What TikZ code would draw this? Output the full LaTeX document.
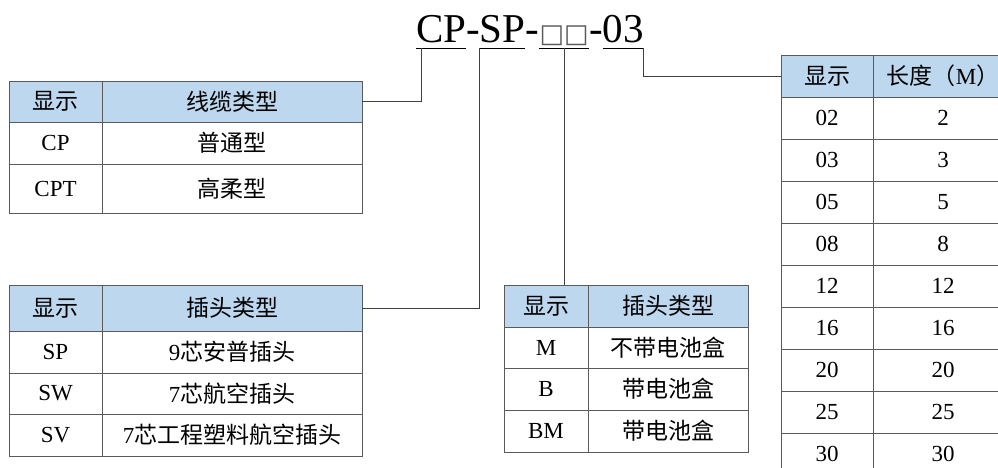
\documentclass[tikz,border=0pt]{standalone}
\usepackage{fontspec}
\setmainfont{Liberation Serif}
\newfontfamily\cjk{Noto Sans CJK SC}
\newfontfamily\boxfont{DejaVu Sans}
\usepackage{tikz}
\usetikzlibrary{positioning}

\definecolor{headblue}{HTML}{BDD7EE}
\definecolor{gridgray}{HTML}{5A5A5A}
\definecolor{linkgray}{HTML}{404040}
\newcommand\tabfont{\fontsize{23}{27}\selectfont}
\newcommand\codefont{\fontsize{41}{45}\selectfont}

\tikzset{
  cell/.style={draw=gridgray, line width=0.9pt, inner sep=0pt, outer sep=0pt, font=\tabfont},
  headcell/.style={cell, fill=headblue},
  codepart/.style={inner xsep=0pt, inner ysep=6pt, text depth=0pt, outer sep=0pt, anchor=base west, font=\codefont},
  link/.style={draw=linkgray, line width=0.9pt},
  uline/.style={draw=black, line width=1pt},
}

\begin{document}
\begin{tikzpicture}[x=1pt,y=1pt]
		\useasboundingbox (0,0) rectangle (998,-467);
		\clip (0,0) rectangle (998,-467);
		% model code
		\node [codepart](cp) at (416,-42) {CP};
		\node [codepart](dash1) at (cp.base east) {-};
		\node [codepart](sp) at (dash1.base east) {SP};
		\node [codepart](dash2) at (sp.base east) {-};
		\node [codepart, minimum width=50, text=gridgray](boxes) at (dash2.base east) {\boxfont\fontsize{26}{30}\selectfont □□};
		\node [codepart](dash3) at (boxes.base east) {-};
		\node [codepart](len) at (dash3.base east) {03};
		\foreach \part in {cp,sp,boxes,len}
			\draw [uline] (\part.south west) -- (\part.south east);
		% cable type
		\node [headcell, minimum width=93, minimum height=41, anchor=north west](t1h1) at (9,-81) {\cjk 显示};
		\node [headcell, minimum width=260, minimum height=41, right=0pt of t1h1](t1h2) {\cjk 线缆类型};
		\node [cell, minimum width=93, minimum height=42, below=0pt of t1h1](t1a1) {CP};
		\node [cell, minimum width=260, minimum height=42, right=0pt of t1a1](t1a2) {\cjk 普通型};
		\node [cell, minimum width=93, minimum height=49, below=0pt of t1a1](t1b1) {CPT};
		\node [cell, minimum width=260, minimum height=49, right=0pt of t1b1](t1b2) {\cjk 高柔型};
		% plug type
		\node [headcell, minimum width=93, minimum height=46, anchor=north west](t2h1) at (9,-285) {\cjk 显示};
		\node [headcell, minimum width=260, minimum height=46, right=0pt of t2h1](t2h2) {\cjk 插头类型};
		\node [cell, minimum width=93, minimum height=42, below=0pt of t2h1](t2a1) {SP};
		\node [cell, minimum width=260, minimum height=42, right=0pt of t2a1](t2a2) {9{\cjk 芯安普插头}};
		\node [cell, minimum width=93, minimum height=41, below=0pt of t2a1](t2b1) {SW};
		\node [cell, minimum width=260, minimum height=41, right=0pt of t2b1](t2b2) {7{\cjk 芯航空插头}};
		\node [cell, minimum width=93, minimum height=42, below=0pt of t2b1](t2c1) {SV};
		\node [cell, minimum width=260, minimum height=42, right=0pt of t2c1](t2c2) {7{\cjk 芯工程塑料航空插头}};
		% battery box
		\node [headcell, minimum width=84, minimum height=42, anchor=north west](t3h1) at (504,-285) {\cjk 显示};
		\node [headcell, minimum width=160, minimum height=42, right=0pt of t3h1](t3h2) {\cjk 插头类型};
		\node [cell, minimum width=84, minimum height=41, below=0pt of t3h1](t3a1) {M};
		\node [cell, minimum width=160, minimum height=41, right=0pt of t3a1](t3a2) {\cjk 不带电池盒};
		\node [cell, minimum width=84, minimum height=42, below=0pt of t3a1](t3b1) {B};
		\node [cell, minimum width=160, minimum height=42, right=0pt of t3b1](t3b2) {\cjk 带电池盒};
		\node [cell, minimum width=84, minimum height=42, below=0pt of t3b1](t3c1) {BM};
		\node [cell, minimum width=160, minimum height=42, right=0pt of t3c1](t3c2) {\cjk 带电池盒};
		% length
		\node [headcell, minimum width=92, minimum height=42, anchor=north west](t4h1) at (781,-55) {\cjk 显示};
		\node [headcell, minimum width=140, minimum height=42, right=0pt of t4h1](t4h2) {{\cjk 长度（}M{\cjk ）}};
		\foreach \code/\meters [count=\i] in {02/2,03/3,05/5,08/8,12/12,16/16,20/20,25/25,30/30} {
			\node [cell, minimum width=92, minimum height=42, anchor=north west](t4r\i a) at (781,-97-42*\i+42) {\code};
			\node [cell, minimum width=140, minimum height=42, right=0pt of t4r\i a](t4r\i b) {\meters};
		}
		% links
		\draw [link] ([xshift=5pt]cp.south west) |- (t1h2.east);
		\draw [link] (sp.south west) |- (t2h2.east);
		\draw [link] (boxes.south) -- (boxes.south |- t3h1.north);
		\draw [link] (len.south east) |- (t4h1.west);
\end{tikzpicture}
\end{document}
